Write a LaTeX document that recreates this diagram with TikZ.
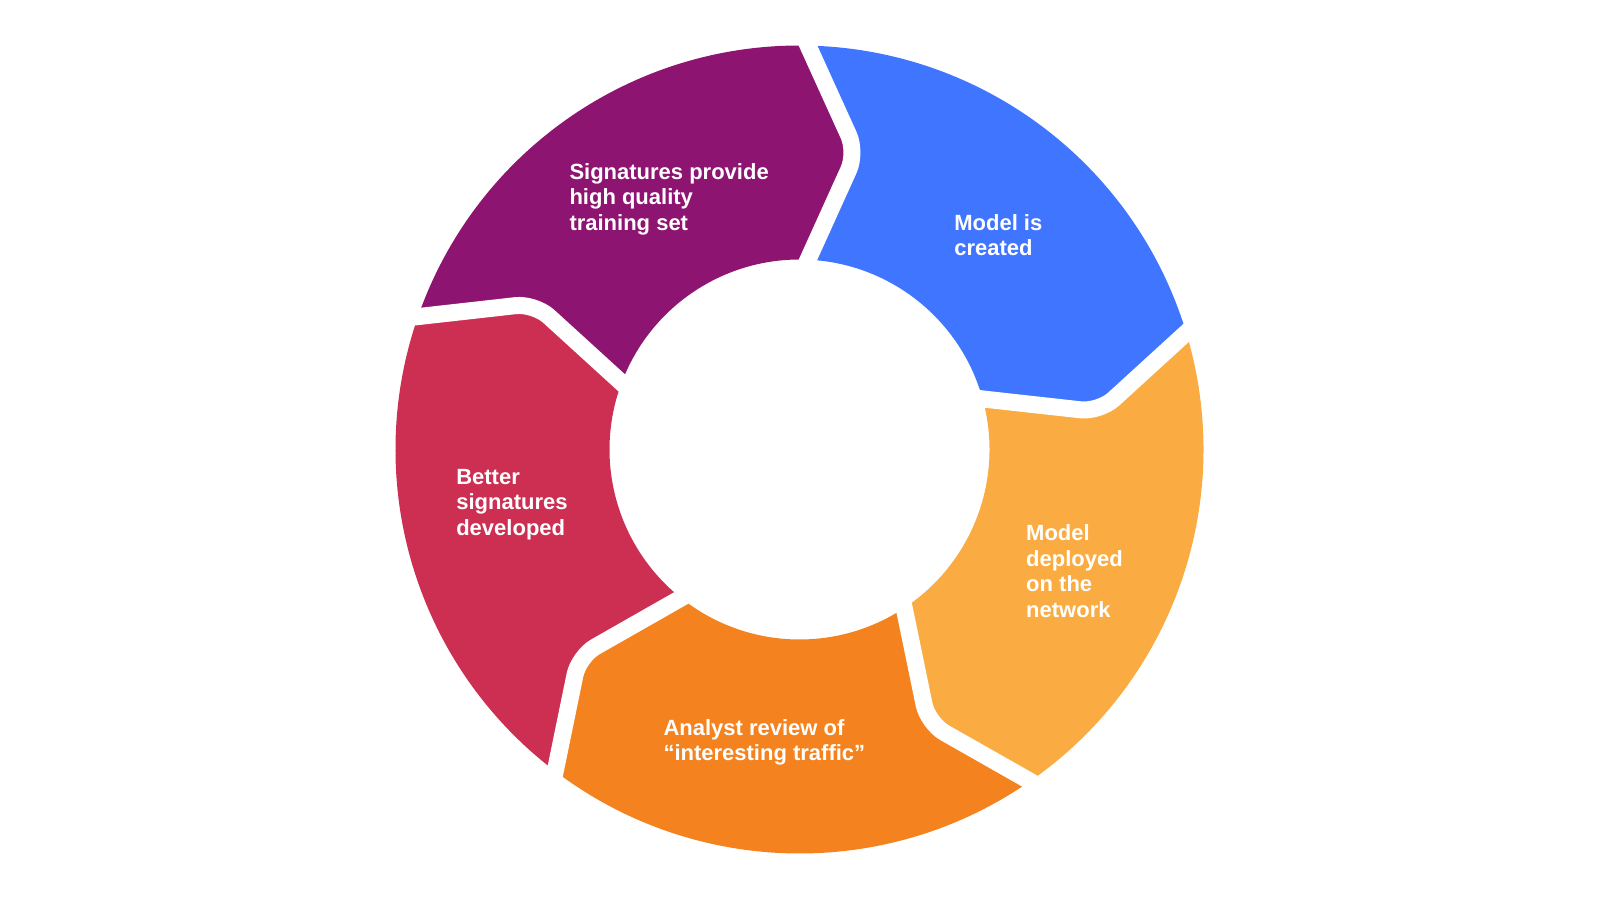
\documentclass[tikz,border=0pt]{standalone}
\usepackage{fontspec}
\setmainfont{Liberation Sans}
\usetikzlibrary{calc}
\definecolor{cpurple}{HTML}{8E1471}
\definecolor{cblue}{HTML}{4075FF}
\definecolor{cyellow}{HTML}{FAAC42}
\definecolor{corange}{HTML}{F4831F}
\definecolor{cred}{HTML}{CD2F53}
\begin{document}
\begin{tikzpicture}[
  lbl/.style={text=white, font=\bfseries\fontsize{22pt}{25.5pt}\selectfont, align=left, inner sep=0pt, anchor=base west},
  gapline/.style={draw=white, line width=17pt, rounded corners=19pt}]
\useasboundingbox[fill=white] (0,0) rectangle (1600pt,900pt);
\coordinate (C) at (799.5pt,450.5pt);
\foreach \k/\p in {0/90,1/18,2/-54,3/-126,4/-198}{
  \coordinate (O\k) at ($(C)+(\p-1.2056:404pt)$);
  \coordinate (T\k) at ($(C)+(\p:297pt)+(\p-90:57pt)$);
  \coordinate (I\k) at ($(C)+(\p-2.564:190pt)$);
}
\foreach \a/\b/\pa/\col in {0/1/90/cblue, 1/2/18/cyellow, 2/3/-54/corange, 3/4/-126/cred, 4/0/-198/cpurple}{
  \fill[\col] (O\a) arc[start angle=\pa-1.2056, end angle=\pa-73.2056, radius=404pt]
     -- (T\b) -- (I\b) arc[start angle=\pa-74.564, end angle=\pa-2.564, radius=190pt]
     -- (T\a) -- cycle;
}
\foreach \k in {0,...,4}{
  \draw[gapline] ($(T\k)!1.3!(O\k)$) -- (T\k) -- ($(T\k)!1.3!(I\k)$);
}
\node[lbl] (t1) at (569.3pt,669.7pt) {Signatures provide\\high quality\\training set};
\node[lbl] (t2) at (954.1pt,644.1pt) {Model is\\created};
\node[lbl] (t3) at (1026pt,282.8pt) {Model\\deployed\\on the\\network};
\node[lbl] (t4) at (663.3pt,139.5pt) {Analyst review of\\“interesting traffic”};
\node[lbl] (t5) at (456.1pt,364.5pt) {Better\\signatures\\developed};
\end{tikzpicture}
\end{document}
